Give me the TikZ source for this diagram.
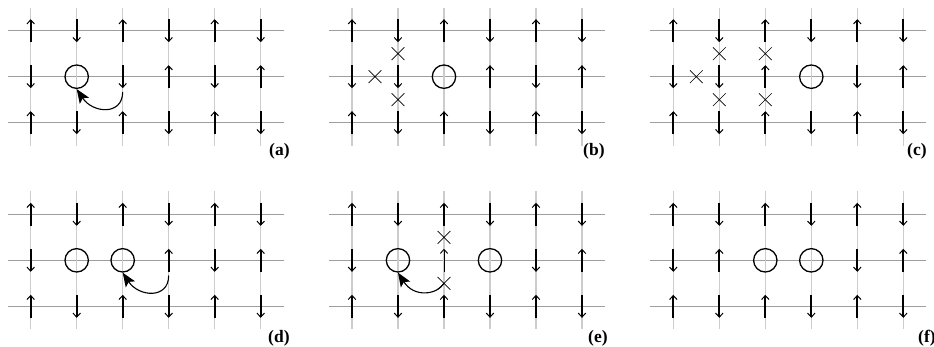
\documentclass[tikz,border=0pt]{standalone}
\usepackage{fontspec}
\setmainfont{Liberation Serif}
\usetikzlibrary{arrows.meta,shapes.misc}
\tikzset{
 hline/.style={draw=black!38, line width=0.8pt},
 vline/.style={draw=black!20, line width=1.4pt},
 spin/.style={line width=1.9pt, -{Straight Barb[length=4pt,width=7.5pt,line width=1pt]}},
 thinspin/.style={line width=0.9pt, -{Straight Barb[length=4pt,width=7.5pt,line width=0.9pt]}},
 hole/.style={circle, draw, line width=1.3pt, minimum size=23.4pt, inner sep=0pt},
 xnode/.style={cross out, draw, line width=0.7pt, minimum size=12pt, inner sep=0pt},
 hop/.style={line width=1.1pt, -{Stealth[length=14pt,width=11pt,inset=3pt]}},
 lab/.style={font=\bfseries\fontsize{17.5}{18}\selectfont, anchor=west, inner sep=0pt},
}
\newcommand\latt[1]{%
 \foreach \j in {0,1,2} \draw[hline] (-0.5,-\j) -- (5.5,-\j);
 \foreach \i in {0,...,5} \draw[vline] (\i,0.5) -- (\i,-2.5);
 \foreach \i in {0,2,4} {\draw[spin] (\i,-0.25) -- (\i,0.25); \draw[spin] (\i,-2.25) -- (\i,-1.75);}
 \foreach \i in {1,3,5} {\draw[spin] (\i,0.25) -- (\i,-0.25); \draw[spin] (\i,-1.75) -- (\i,-2.25);}
 \foreach \s [count=\i from 0] in {#1} {
   \ifnum\s=1 \draw[spin] (\i,-1.25) -- (\i,-0.75); \fi
   \ifnum\s=-1 \draw[spin] (\i,-0.75) -- (\i,-1.25); \fi
   \ifnum\s=2 \draw[thinspin] (\i,-1.25) -- (\i,-0.75); \fi
 }}
\begin{document}
\begin{tikzpicture}[x=46pt,y=46pt]
\useasboundingbox (0,0) rectangle (934pt,-346pt);
% (a)
\begin{scope}[shift={(0.667,-0.667)}]
 \latt{-1,0,-1,1,-1,1}
 \node[hole] (a1) at (1,-1) {};
 \coordinate (as) at (2,-1.33);
 \draw[hop] (as) .. controls +(0,-0.52) and +(0.35,-0.53) .. (a1.south);
\end{scope}
% (b)
\begin{scope}[shift={(7.652,-0.667)}]
 \latt{-1,-1,0,1,-1,1}
 \node[hole] (b1) at (2,-1) {};
 \node[xnode] (bx1) at (1,-0.5) {};
 \node[xnode] (bx2) at (0.5,-1) {};
 \node[xnode] (bx3) at (1,-1.5) {};
\end{scope}
% (c)
\begin{scope}[shift={(14.637,-0.667)}]
 \latt{-1,-1,1,0,-1,1}
 \node[hole] (c1) at (3,-1) {};
 \node[xnode] (cx1) at (0.5,-1) {};
 \node[xnode] (cx2) at (1,-0.5) {};
 \node[xnode] (cx3) at (1,-1.5) {};
 \node[xnode] (cx4) at (2,-0.5) {};
 \node[xnode] (cx5) at (2,-1.5) {};
\end{scope}
% (d)
\begin{scope}[shift={(0.667,-4.659)}]
 \latt{-1,0,0,1,-1,1}
 \node[hole] (d1) at (1,-1) {};
 \node[hole] (d2) at (2,-1) {};
 \coordinate (ds) at (3,-1.33);
 \draw[hop] (ds) .. controls +(0,-0.52) and +(0.35,-0.53) .. (d2.south);
\end{scope}
% (e)
\begin{scope}[shift={(7.652,-4.659)}]
 \latt{-1,0,2,0,-1,1}
 \node[hole] (e1) at (1,-1) {};
 \node[hole] (e2) at (3,-1) {};
 \node[xnode] (ex1) at (2,-0.5) {};
 \node[xnode] (ex2) at (2,-1.5) {};
 \draw[hop] (ex2.center) .. controls +(-0.15,-0.25) and +(0.35,-0.55) .. (e1.south);
\end{scope}
% (f)
\begin{scope}[shift={(14.637,-4.659)}]
 \latt{-1,1,0,0,-1,1}
 \node[hole] (f1) at (2,-1) {};
 \node[hole] (f2) at (3,-1) {};
\end{scope}
% labels
\node[lab] (la) at (5.848,-3.283) {(a)};
\node[lab] (lb) at (12.674,-3.283) {(b)};
\node[lab] (lc) at (19.717,-3.283) {(c)};
\node[lab] (ld) at (5.826,-7.348) {(d)};
\node[lab] (le) at (12.783,-7.348) {(e)};
\node[lab] (lf) at (19.957,-7.348) {(f)};
\end{tikzpicture}
\end{document}
